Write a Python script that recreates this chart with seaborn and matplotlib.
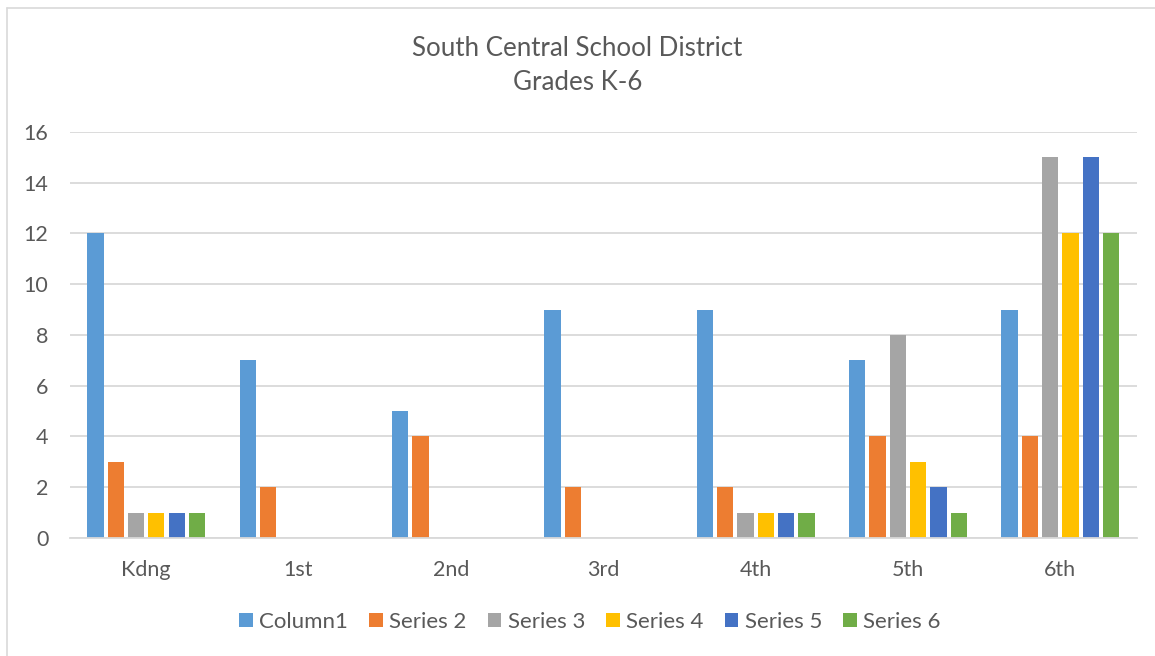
import matplotlib
matplotlib.use('Agg')
import pandas as pd
import matplotlib.pyplot as plt
import seaborn as sns
from matplotlib.lines import Line2D

grades = ['Kdng', '1st', '2nd', '3rd', '4th', '5th', '6th']
series_names = ['Column1', 'Series 2', 'Series 3', 'Series 4', 'Series 5', 'Series 6']
column1 = [12, 7, 5, 9, 9, 7, 9]
series2 = [3, 2, 4, 2, 2, 4, 4]
series3 = [1, 0, 0, 0, 1, 8, 15]
series4 = [1, 0, 0, 0, 1, 3, 12]
series5 = [1, 0, 0, 0, 1, 2, 15]
series6 = [1, 0, 0, 0, 1, 1, 12]
colors = ['#5B9BD5', '#ED7D31', '#A5A5A5', '#FFC000', '#4472C4', '#70AD47']

rows = []
for name, vals in zip(series_names, [column1, series2, series3, series4, series5, series6]):
    for g, v in zip(grades, vals):
        rows.append({'Grade': g, 'Series': name, 'Value': v})
df = pd.DataFrame(rows)

sns.set_style('white')
plt.rcParams['font.family'] = ['Lato', 'DejaVu Sans']

fig = plt.figure(figsize=(11.55, 6.56), dpi=100)
ax = fig.add_axes([0.0606, 0.180, 0.9234, 0.619])

sns.barplot(data=df, x='Grade', y='Value', hue='Series', order=grades,
            hue_order=series_names, palette=colors, width=0.8, gap=0.2,
            saturation=1, linewidth=0, ax=ax, legend=True)

ax.set_ylim(0, 16)
ax.set_xlim(-0.5, 6.5)
ax.set_yticks(range(0, 17, 2))
ax.yaxis.grid(True, color='#D9D9D9', linewidth=1.3)
ax.set_axisbelow(True)
for s in ['top', 'right', 'left']:
    ax.spines[s].set_visible(False)
ax.spines['bottom'].set_color('#D9D9D9')
ax.spines['bottom'].set_linewidth(1.3)
ax.tick_params(axis='both', length=0, labelsize=15.5, colors='#595959')
ax.tick_params(axis='x', pad=16)
ax.tick_params(axis='y', pad=15.5)
ax.set_xlabel('')
ax.set_ylabel('')

handles, labels = ax.get_legend_handles_labels()
ax.legend_.remove()
fig.legend(handles, labels, loc='center', bbox_to_anchor=(0.511, 0.052), ncol=6,
           frameon=False, fontsize=16, handlelength=0.6, handleheight=0.6,
           handletextpad=0.3, columnspacing=0.95, labelcolor='#595959')

fig.text(0.500, 0.900, 'South Central School District\nGrades K-6', ha='center',
         va='center', fontsize=18.6, color='#595959', linespacing=1.42)

# chart border (only top and left edges fall inside the image)
fig.add_artist(Line2D([6.5 / 1155, 1], [1 - 7.5 / 656, 1 - 7.5 / 656],
                      transform=fig.transFigure, color='#D9D9D9', linewidth=1.2))
fig.add_artist(Line2D([6.5 / 1155, 6.5 / 1155], [0, 1 - 7.5 / 656],
                      transform=fig.transFigure, color='#D9D9D9', linewidth=1.2))

fig.savefig('out.png', dpi=100)
